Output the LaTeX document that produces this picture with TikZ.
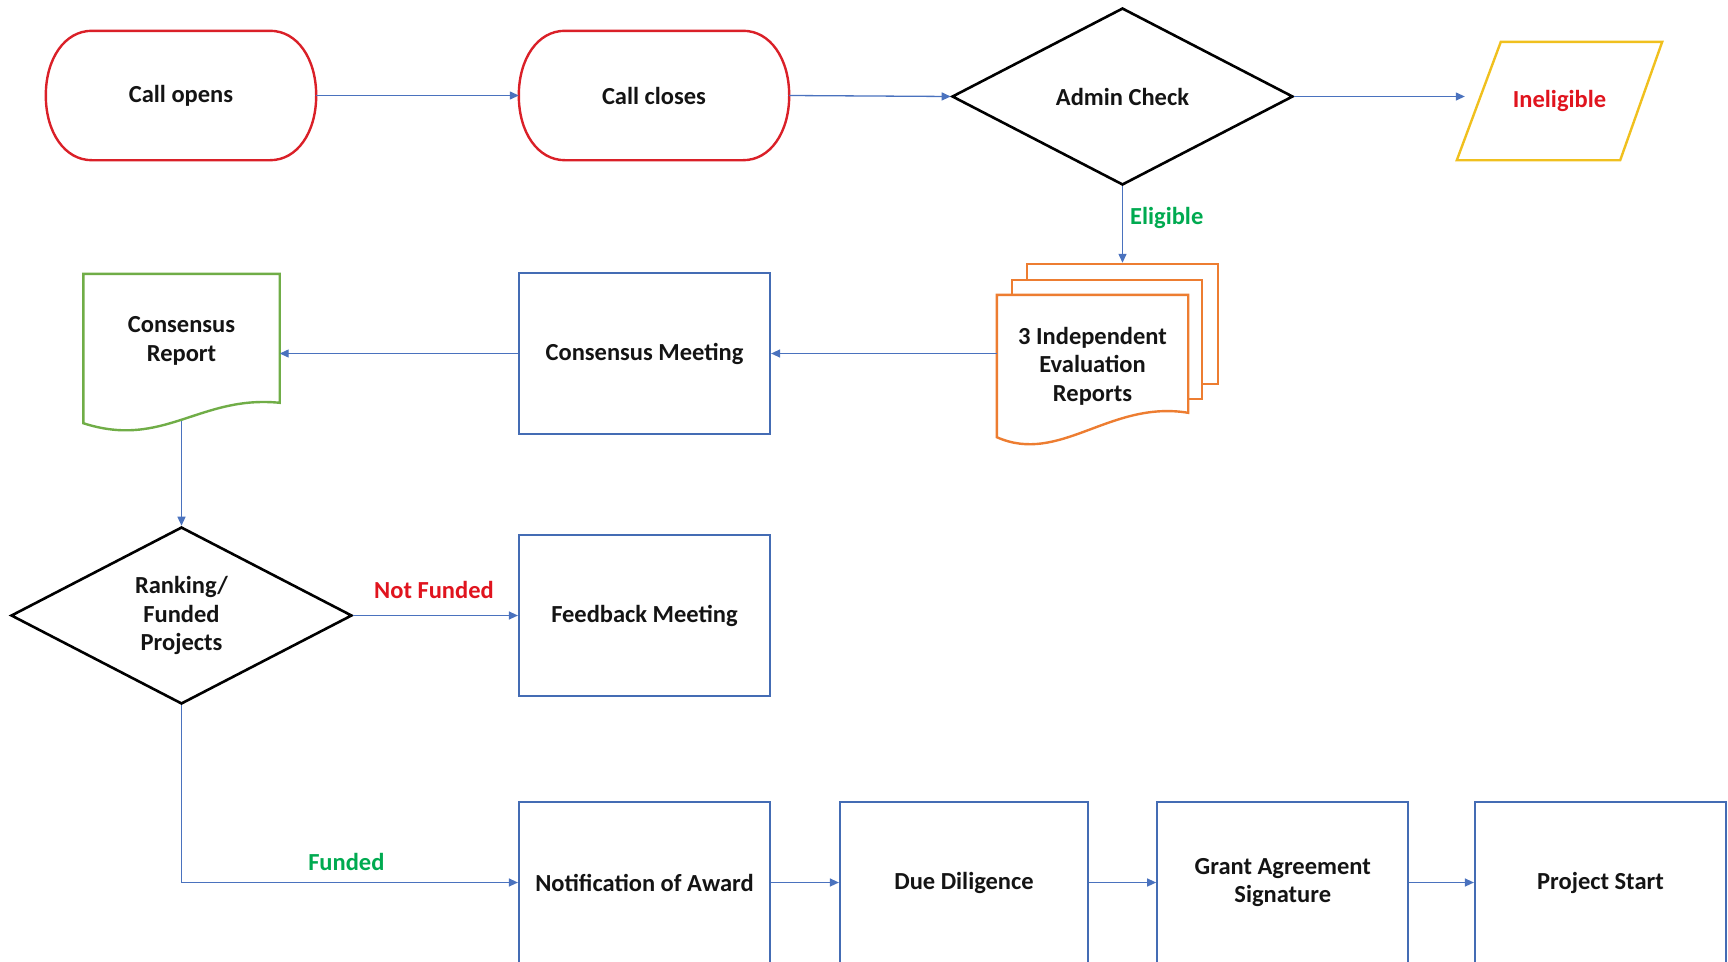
\documentclass[tikz,border=0pt]{standalone}
\usepackage{fontspec}
\setmainfont{Carlito}
\usetikzlibrary{shapes.geometric,shapes.misc,arrows.meta,calc}
\definecolor{connblue}{RGB}{74,114,190}
\definecolor{boxblue}{RGB}{68,108,180}
\definecolor{termred}{RGB}{218,32,40}
\definecolor{yel}{RGB}{240,192,30}
\definecolor{org}{RGB}{237,125,49}
\definecolor{grn}{RGB}{112,173,71}
\definecolor{lblgreen}{RGB}{0,170,80}
\definecolor{lblred}{RGB}{224,20,30}
\definecolor{txt}{RGB}{20,20,20}
\pgfdeclarelayer{bg}
\pgfdeclarelayer{mid}
\pgfsetlayers{bg,mid,main}
\newcommand{\myterminator}[1]{%
  \draw[termline] ($(#1.north west)+(46,0)$) -- ($(#1.north east)+(-46,0)$)
    .. controls +(27,0) and +(0,-37) .. (#1.east)
    .. controls +(0,37) and +(27,0) .. ($(#1.south east)+(-46,0)$)
    -- ($(#1.south west)+(46,0)$)
    .. controls +(-27,0) and +(0,37) .. (#1.west)
    .. controls +(0,-37) and +(-27,0) .. cycle;}
\begin{document}
\begin{tikzpicture}[x=1pt,y=-1pt,
  font=\fontsize{24.5}{28.5}\selectfont\bfseries, text=txt,
  term/.style={rectangle, minimum width=270pt, minimum height=129pt, inner sep=0pt},
  termline/.style={draw=termred, line width=2.4pt},
  dec/.style={diamond, draw=black, line width=2.6pt, minimum width=341pt, minimum height=177pt, inner sep=0pt, aspect=2, align=center},
  proc/.style={rectangle, draw=boxblue, line width=2.2pt, minimum width=251pt, minimum height=161pt, inner sep=0pt, align=center},
  ghost/.style={rectangle, inner sep=0pt, align=center},
  pagebox/.style={rectangle, draw=org, line width=2.4pt, fill=white, inner sep=0pt},
  conn/.style={draw=connblue, line width=1.3pt, -{Triangle[length=9pt,width=8pt]}},
  lbl/.style={inner sep=0pt, font=\fontsize{24.5}{28}\selectfont\bfseries}
]
\useasboundingbox (0,0) rectangle (1728,961);

% top row
\node[term] (open) at (181,95.5) {Call opens};
\myterminator{open}
\node[term] (close) at (654,95.5) {Call closes};
\myterminator{close}
\node[dec] (admin) at (1122.5,96.5) {Admin Check};
\node[ghost, minimum width=205pt, minimum height=118pt, text=lblred] (inel) at (1559.5,101) {Ineligible};
\draw[draw=yel, line width=2.4pt] ($(inel.north west)+(44,0)$) -- (inel.north east) -- ($(inel.south east)+(-42,0)$) -- (inel.south west) -- cycle;

% evaluation reports stack
\node[ghost, minimum width=191pt, minimum height=142pt] (evalf) at (1092.5,366) {3 Independent\\Evaluation\\Reports};
\begin{pgfonlayer}{bg}
\node[pagebox, minimum width=191pt, minimum height=120pt] (evalb) at (1122.5,324) {};
\node[pagebox, minimum width=190pt, minimum height=119pt] (evalm) at (1107,339.5) {};
\end{pgfonlayer}
\begin{pgfonlayer}{mid}
\draw[draw=org, line width=2.4pt, fill=white] (evalf.north west) -- (evalf.north east) -- ++(0,118)
  .. controls +(-78,-13) and +(63,28) .. (evalf.south west) -- cycle;
\end{pgfonlayer}

% consensus
\node[proc] (cmeet) at (644.5,353.5) {Consensus Meeting};
\node[ghost, minimum width=196pt, minimum height=134pt] (crep) at (181.5,341) {Consensus\\Report};
\begin{pgfonlayer}{mid}
\draw[draw=grn, line width=2.4pt, fill=white] (crep.north west) -- (crep.north east) -- ++(0,129)
  .. controls +(-80,-8) and +(80,26) .. ($(crep.south west)+(0,15)$) -- cycle;
\end{pgfonlayer}

% ranking
\node[dec] (rank) at (181.5,615.5) {Ranking/\\Funded\\Projects};
\node[proc] (feed) at (644.5,615.5) {Feedback Meeting};

% bottom row
\node[proc] (notif) at (644.5,882.5) {Notification of Award};
\node[proc, minimum width=248pt] (due) at (964,882.5) {Due Diligence};
\node[proc] (grant) at (1282.75,882.5) {Grant Agreement\\Signature};
\node[proc] (start) at (1600.5,882.5) {Project Start};

% connectors
\draw[conn] (open.east) -- (close.west);
\draw[conn] (close.east) -- (admin.west);
\draw[conn, shorten >=-8pt] (admin.east) -- (admin.east -| inel.west);
\draw[conn] (admin.south) -- node[lbl, pos=0.42, right=7pt, text=lblgreen] {Eligible} (evalb.north);
\draw[conn] (cmeet.east -| evalf.west) -- (cmeet.east);
\draw[conn] (cmeet.west) -- (cmeet.west -| crep.east);
\begin{pgfonlayer}{bg}
\draw[conn] (crep.south) -- (rank.north);
\end{pgfonlayer}
\draw[conn] (rank.east) -- node[lbl, pos=0.49, above=16pt, text=lblred] {Not Funded} (feed.west);
\draw[conn] (rank.south) |- node[lbl, pos=0.745, above=11pt, text=lblgreen] {Funded} (notif.west);
\draw[conn] (notif.east) -- (due.west);
\draw[conn] (due.east) -- (grant.west);
\draw[conn] (grant.east) -- (start.west);
\end{tikzpicture}
\end{document}
